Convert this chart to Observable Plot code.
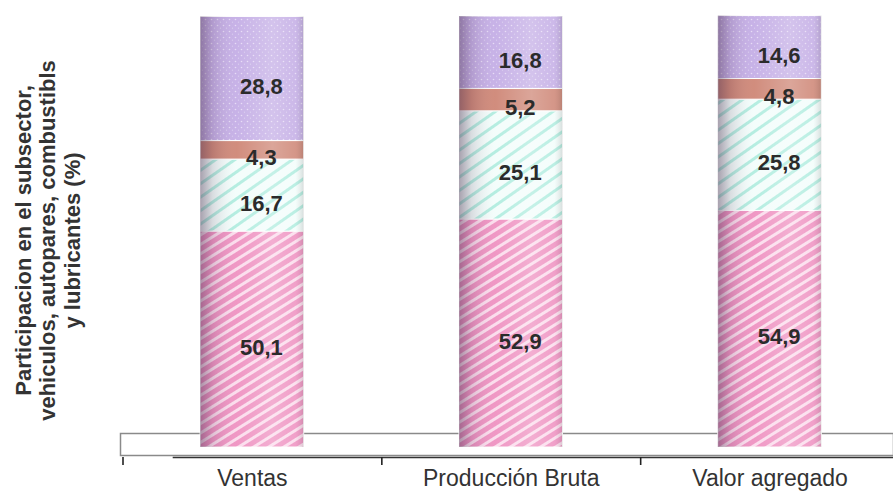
<!DOCTYPE html>
<html>
<head>
<meta charset="utf-8">
<script src="https://cdn.jsdelivr.net/npm/d3@7"></script>
<script src="https://cdn.jsdelivr.net/npm/@observablehq/plot@0.6"></script>
<style>
  html, body { margin: 0; padding: 0; background: #fff; }
  #chart svg { display: block; }
</style>
</head>
<body>
<div id="chart"></div>
<script>
// ---- data ----
const categories = ["Ventas", "Producción Bruta", "Valor agregado"];
const serie1 = [50.1, 52.9, 54.9];
const serie2 = [16.7, 25.1, 25.8];
const serie3 = [4.3, 5.2, 4.8];
const serie4 = [28.8, 16.8, 14.6];
const yTitle = "Participacion en el subsector,\nvehiculos, autopares, combustibls\ny lubricantes (%)";

// ---- styles ----
const seriesFills = ["url(#pinkS)", "url(#mintS)", "#cf8878", "url(#lavS)"];

const seriesValues = [serie1, serie2, serie3, serie4];
const rows = [];
categories.forEach((c, i) => {
  let base = 0;
  seriesValues.forEach((vals, s) => {
    const v = vals[i];
    rows.push({category: c, index: i, series: s, value: v, y1: base, y2: base + v});
    base += v;
  });
});
const totals = categories.map((c, i) => ({category: c, index: i, total: d3.sum(seriesValues, v => v[i])}));
const fmt = v => v.toFixed(1).replace(".", ",");

const svg = Plot.plot({
  width: 893,
  height: 497,
  marginTop: 17,
  marginBottom: 40,
  marginLeft: 120,
  marginRight: 0,
  style: {fontFamily: "'Liberation Sans', Arial, sans-serif", background: "white", overflow: "visible"},
  x: {type: "linear", domain: [0, 3], range: [122.5, 899], axis: null},
  y: {domain: [0, 100], range: [447, 16], axis: null},
  color: {type: "identity"},
  marks: [
    Plot.frame({stroke: "#8a8a8a", strokeWidth: 1.5, fill: "white", insetTop: 416, insetBottom: 2}),
    Plot.frame({anchor: "bottom", stroke: "#333", strokeWidth: 1.6, insetLeft: 53}),
    Plot.axisX({ticks: [0, 1, 2, 3], tickSize: 8, tickFormat: () => "", stroke: "#222", strokeWidth: 1.6}),
    Plot.rect(rows, {
      x1: d => d.index + 0.3, x2: d => d.index + 0.7,
      y1: "y1", y2: "y2",
      fill: d => seriesFills[d.series],
      stroke: "white", strokeWidth: 1
    }),
    Plot.rect(totals, {
      x1: d => d.index + 0.3, x2: d => d.index + 0.7,
      y1: 0, y2: "total",
      fill: "url(#shade)"
    }),
    Plot.text(rows, {
      x: d => d.index + 0.5, y: d => (d.y1 + d.y2) / 2,
      text: d => fmt(d.value),
      dx: 9, dy: 8, fontSize: 22, fontWeight: "bold", fill: "#2b2b2b"
    }),
    Plot.text(categories, {
      x: (d, i) => i + 0.5, frameAnchor: "bottom", text: d => d,
      dy: 28, fontSize: 23, fill: "#333"
    }),
    Plot.text([yTitle], {
      frameAnchor: "left", textAnchor: "middle", text: d => d, rotate: -90,
      dx: -73, dy: 3, fontSize: 22, fontWeight: "bold", lineHeight: 1.12, fill: "#333"
    })
  ]
});

d3.select(svg).insert("defs", ":first-child").html(`
  <pattern id="pinkS" patternUnits="userSpaceOnUse" width="8" height="8" patternTransform="rotate(-32)">
    <rect width="8" height="8" fill="#ef93c2"/>
    <rect y="0" width="8" height="3" fill="#fbdcec"/>
  </pattern>
  <pattern id="mintS" patternUnits="userSpaceOnUse" width="11" height="11" patternTransform="rotate(-35)">
    <rect width="11" height="11" fill="#f3fdfb"/>
    <rect y="0" width="11" height="3" fill="#b2ede0"/>
  </pattern>
  <pattern id="lavS" patternUnits="userSpaceOnUse" width="6" height="6">
    <rect width="6" height="6" fill="#c5afe6"/>
    <circle cx="1.5" cy="1.5" r="0.8" fill="#e6dbf6"/>
    <circle cx="4.5" cy="4.2" r="0.6" fill="#dacdf0"/>
  </pattern>
  <linearGradient id="shade" x1="0" x2="1" y1="0" y2="0">
    <stop offset="0" stop-color="#4a3050" stop-opacity="0.45"/>
    <stop offset="0.12" stop-color="#4a3050" stop-opacity="0.16"/>
    <stop offset="0.35" stop-color="#ffffff" stop-opacity="0.04"/>
    <stop offset="0.7" stop-color="#ffffff" stop-opacity="0.25"/>
    <stop offset="0.92" stop-color="#ffffff" stop-opacity="0.12"/>
    <stop offset="1" stop-color="#606060" stop-opacity="0.2"/>
  </linearGradient>
`);

document.getElementById("chart").appendChild(svg);
</script>
</body>
</html>
